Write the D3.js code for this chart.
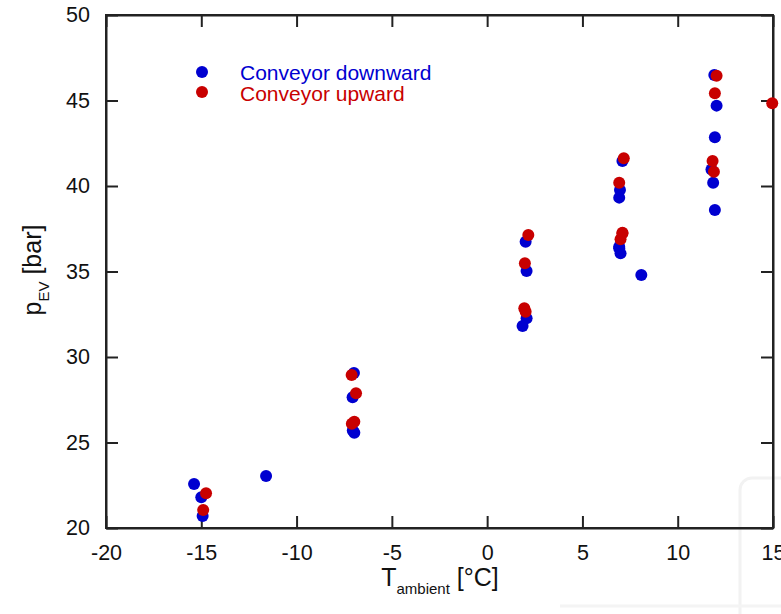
<!DOCTYPE html>
<html><head><meta charset="utf-8">
<script src="https://cdn.jsdelivr.net/npm/d3@7/dist/d3.min.js"></script>
<style>body{margin:0;background:#fff}svg{display:block}text{font-family:Arial,"Liberation Sans",sans-serif}</style>
</head><body>
<svg id="c" width="781" height="614"></svg>
<script>
const xTicks = [-20,-15,-10,-5,0,5,10,15];
const yTicks = [20,25,30,35,40,45,50];
const downT = [-15.38,-15.0,-14.93,-11.6,-6.99,-7.06,-6.97,-7.05,2.02,2.07,2.07,1.86,6.93,7.0,8.09,11.92,12.04,11.95,11.77,11.86,11.95,7.1,6.97,6.93,6.93];
const downP = [22.57,21.8,20.7,23.04,29.06,27.64,25.57,25.7,36.74,35.03,32.26,31.81,36.36,36.06,34.8,46.49,44.7,42.85,40.97,40.19,38.6,41.46,39.77,39.32,36.45];
const upT = [-14.75,-14.9,-7.11,-6.88,-6.97,-7.1,2.16,1.98,1.95,2.02,7.1,7.0,12.04,11.95,14.96,11.83,11.9,7.17,6.93,7.1];
const upP = [22.03,21.05,28.95,27.88,26.22,26.1,37.13,35.48,32.85,32.65,37.23,36.88,46.45,45.42,44.84,41.46,40.84,41.62,40.19,37.27];
const seriesNames = ["Conveyor downward","Conveyor upward"];
const colors = ["#0000d0","#c80000"];

const svg = d3.select("#c");
const L=106,R=773,T=15,B=528;
const x = d3.scaleLinear().domain([-20,15]).range([L,R]);
const y = d3.scaleLinear().domain([20,50]).range([B,T]);

// faint watermark
svg.append("rect").attr("x",740).attr("y",478).attr("width",60).attr("height",150).attr("rx",12)
  .attr("fill","none").attr("stroke","#f2f2f2").attr("stroke-width",3);
svg.append("line").attr("x1",560).attr("x2",781).attr("y1",606).attr("y2",606).attr("stroke","#f4f4f4").attr("stroke-width",3);

const ax = g=>g.selectAll("path,line").attr("stroke","#222").attr("stroke-width",2);
const fmt = d=>String(d);
svg.append("g").attr("transform",`translate(0,${B})`)
  .call(d3.axisBottom(x).tickValues(xTicks).tickSizeInner(-12).tickSizeOuter(0).tickPadding(17).tickFormat(fmt))
  .call(ax).call(g=>g.selectAll("text").attr("font-size",21.5).attr("fill","#111").attr("font-family","Arial, Liberation Sans"));
svg.append("g").attr("transform",`translate(0,${T})`)
  .call(d3.axisTop(x).tickValues(xTicks).tickSizeInner(-12).tickSizeOuter(0).tickFormat(""))
  .call(ax);
svg.append("g").attr("transform",`translate(${L},0)`)
  .call(d3.axisLeft(y).tickValues(yTicks).tickSizeInner(-12).tickSizeOuter(0).tickPadding(16).tickFormat(fmt))
  .call(ax).call(g=>g.selectAll("text").attr("font-size",21.5).attr("fill","#111").attr("font-family","Arial, Liberation Sans"));
svg.append("g").attr("transform",`translate(${R},0)`)
  .call(d3.axisRight(y).tickValues(yTicks).tickSizeInner(-12).tickSizeOuter(0).tickFormat(""))
  .call(ax);
svg.append("rect").attr("x",L).attr("y",T).attr("width",R-L).attr("height",B-T)
  .attr("fill","none").attr("stroke","#222").attr("stroke-width",2);

const dn = downT.map((t,i)=>({t,p:downP[i]}));
const up = upT.map((t,i)=>({t,p:upP[i]}));
svg.append("g").selectAll("circle").data(dn).join("circle")
  .attr("cx",d=>x(d.t)).attr("cy",d=>y(d.p)).attr("r",6).attr("fill",colors[0]);
svg.append("g").selectAll("circle").data(up).join("circle")
  .attr("cx",d=>x(d.t)).attr("cy",d=>y(d.p)).attr("r",6).attr("fill",colors[1]);

// legend
seriesNames.forEach((n,i)=>{
  svg.append("circle").attr("cx",202).attr("cy",72+i*20).attr("r",6).attr("fill",colors[i]);
  svg.append("text").attr("x",240).attr("y",80+i*21).attr("font-size",21).attr("fill",colors[i]).text(n);
});

// axis titles
const xl = svg.append("text").attr("x",440).attr("y",586).attr("text-anchor","middle").attr("font-size",25).attr("fill","#111");
xl.append("tspan").text("T");
xl.append("tspan").attr("font-size",15).attr("dy",8).text("ambient");
xl.append("tspan").attr("dy",-8).text(" [°C]");
const yl = svg.append("text").attr("transform","translate(41,270) rotate(-90)").attr("text-anchor","middle").attr("font-size",25).attr("fill","#111");
yl.append("tspan").text("p");
yl.append("tspan").attr("font-size",15).attr("dy",8).text("EV");
yl.append("tspan").attr("dy",-8).text(" [bar]");
</script>
</body></html>
